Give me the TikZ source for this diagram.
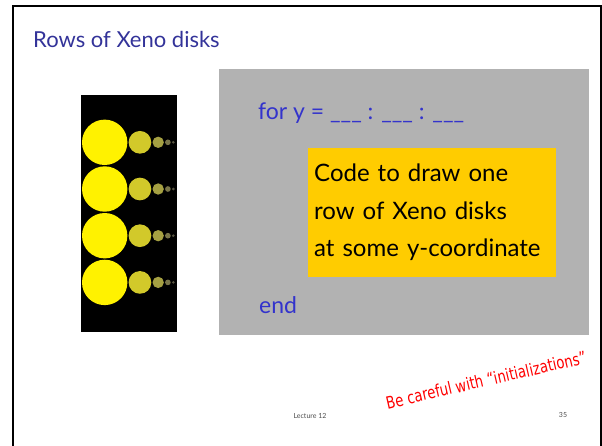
\documentclass[tikz,border=0pt]{standalone}
\usepackage{fontspec}
\setmainfont{Lato}
\newfontfamily\handfont{DejaVu Sans}
\definecolor{titleblue}{RGB}{51,51,153}
\definecolor{codeblue}{RGB}{51,51,204}
\definecolor{boxgray}{RGB}{178,178,178}
\definecolor{codeorange}{RGB}{255,204,0}
\begin{document}
\begin{tikzpicture}[x=1pt, y=-1pt, line join=miter]

%-----------------------
% 参数：第一个圆盘的半径与位置，行间距
%-----------------------
\def\rzero{22.7}     % 最大圆盘半径
\def\xzero{104.7}    % 最大圆盘圆心 x
\def\ytop{142.3}     % 第一行圆心 y
\def\dy{46.7}        % 行间距
\def\gap{1.2}        % 相邻圆盘之间的小空隙

\useasboundingbox (0,0) rectangle (602,445);

%-----------------------
% 幻灯片边框与标题
%-----------------------
\draw[line width=2.4pt] (13,446) -- (13,6) -- (601,6) -- (601,446);
\node[anchor=base west, text=titleblue, font=\fontsize{22}{26}\selectfont, inner sep=0]
  (title) at (33,47) {Rows of Xeno disks};

%-----------------------
% 左边：四行 Xeno 圆盘
%-----------------------
\fill[black] (80.5,95) rectangle (176.5,332);
\foreach \row in {0,1,2,3} {
  \pgfmathsetmacro{\yc}{\ytop+\row*\dy}
  \foreach \k/\shade in {0/100,1/80,2/60,3/40,4/25} {
    \pgfmathsetmacro{\rk}{\rzero/2^\k}
    \pgfmathsetmacro{\xk}{\xzero+3*\rzero*(1-1/2^\k)+\gap*\k} % x_k = x_0 + r_0 + 2r_1 + ... + r_k
    \fill[yellow!\shade!black] (\xk,\yc) circle[radius=\rk];
  }
}

%-----------------------
% 右边：灰色的 for 循环框
%-----------------------
\fill[boxgray] (219,69) rectangle (588.5,335);
\node[anchor=base west, text=codeblue, font=\fontsize{23}{27}\selectfont, inner sep=0]
  (forline) at (258,119) {for y = \_\_\_ : \_\_\_ : \_\_\_};
\node[anchor=north west, fill=codeorange, text width=236pt, minimum width=242pt,
      minimum height=129pt, inner xsep=6pt, inner ysep=0pt, align=left,
      font=\fontsize{24}{37.5}\selectfont]
  (codebox) at (308,148) {Code to draw one\\row of Xeno disks\\at some y-coordinate};
\node[anchor=base west, text=codeblue, font=\fontsize{23}{27}\selectfont, inner sep=0]
  (endline) at (259,313) {end};

%-----------------------
% 红色提示与页脚
%-----------------------
\node[text=red, rotate=13, font=\handfont\fontsize{17}{20}\selectfont, inner sep=0]
  (warn) at (486,380) {\scalebox{0.78}[1]{Be careful with “initializations”}};
\node[text=black!70, font=\fontsize{7}{8}\selectfont, inner sep=0]
  (lecture) at (310,416) {Lecture 12};
\node[text=black!70, font=\fontsize{7}{8}\selectfont, inner sep=0]
  (pagenum) at (563,415) {35};

\end{tikzpicture}
\end{document}
